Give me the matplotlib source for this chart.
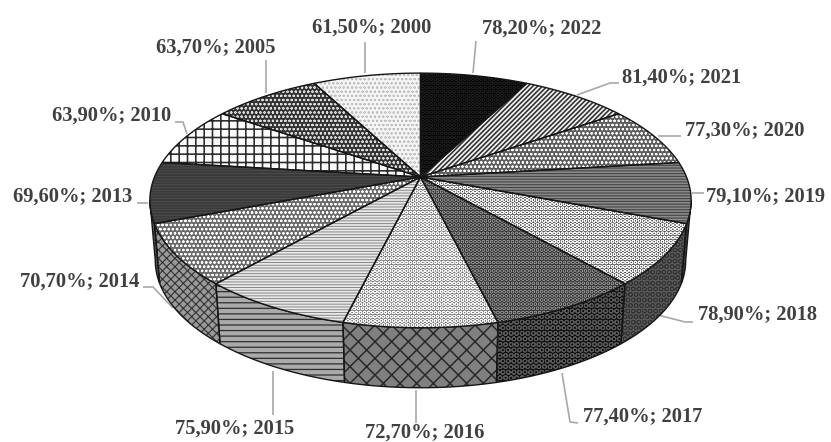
import numpy as np
import matplotlib
matplotlib.use("Agg")
import matplotlib.pyplot as plt
from matplotlib.patches import Polygon

years = [2022, 2021, 2020, 2019, 2018, 2017, 2016, 2015, 2014, 2013, 2010, 2005, 2000]
values = [78.2, 81.4, 77.3, 79.1, 78.9, 77.4, 72.7, 75.9, 70.7, 69.6, 63.9, 63.7, 61.5]
# In the picture every slice has the same size, whatever its label says.
slice_sizes = [1, 1, 1, 1, 1, 1, 1, 1, 1, 1, 1, 1, 1]

top_face = ['#050505', '#f6f6f6', '#5e5e5e', '#8a8a8a', '#555555', '#333333', '#777777',
            '#e8e8e8', '#6a6a6a', '#3a3a3a', '#fbfbfb', '#333333', '#f5f5f5']
top_edge = ['#1c1c1c', '#333333', '#ffffff', '#444444', '#ffffff', '#999999', '#ffffff',
            '#888888', '#ffffff', '#505050', '#2a2a2a', '#dddddd', '#bebebe']
top_hatch = ['OOOO', '///////', 'oooo', '------', 'OOOO', 'OOOO', 'OOOO',
             '------', 'oooo', '------', '++', 'oooo', 'oooo']
top_hlw = [0.5, 1.2, 0.5, 0.8, 0.5, 0.3, 0.5, 0.7, 0.55, 0.6, 1.15, 0.5, 0.4]

side_face = ['#333333', '#333333', '#333333', '#444444', '#5a5a5a', '#0a0a0a', '#808080',
             '#aaaaaa', '#999999', '#505050', '#333333', '#333333', '#333333']
side_edge = ['#333333', '#333333', '#333333', '#333333', '#333333', '#585858', '#2a2a2a',
             '#2e2e2e', '#333333', '#707070', '#333333', '#333333', '#333333']
side_hatch = ['', '', '', '---', 'OOO', 'OOO', 'xx', '---', 'xxxx', '---', '', '', '']
side_hlw = [0.7, 0.7, 0.7, 0.7, 0.6, 0.8, 1.1, 0.9, 0.8, 0.7, 0.7, 0.7, 0.7]

label_x = [542, 682, 745, 766, 758, 643, 425, 235, 80, 73, 112, 216, 372]
label_y = [29, 78, 131, 197, 315, 417, 433, 429, 282, 197, 116, 48, 28]
leaders = [
    [(473, 73), (476, 41)],
    [(577, 95), (610, 83), (619, 83)],
    [(658, 136), (681, 136)],
    [(692, 193), (704, 193)],
    [(658, 315), (685, 322), (693, 322)],
    [(562, 373), (570, 422), (578, 423)],
    [(416, 390), (416, 423)],
    [(273, 371), (273, 415)],
    [(173, 308), (153, 287), (143, 287)],
    [(148, 203), (137, 203)],
    [(187, 134), (183, 122), (175, 122)],
    [(266, 93), (266, 60)],
    [(365, 73), (365, 42)],
]

CX, CY = 420.5, 177.0
A, B, K = 266.0, 123.0, 0.184
DEPTH, SHRINK = 60.0, 0.98
FRONT_START = np.arccos(-K)
FRONT_END = 2 * np.pi - FRONT_START


def project(theta):
    u, v = np.sin(theta), np.cos(theta)
    w = 1 + K * v
    return CX + A * u / w, CY - B * v / w


fig = plt.figure(figsize=(8.31, 4.42), dpi=100)
ax = fig.add_axes([0, 0, 1, 1])
ax.set_xlim(0, 831)
ax.set_ylim(442, 0)
ax.axis('off')

edges = np.cumsum([0] + slice_sizes) / sum(slice_sizes) * 2 * np.pi

for i in range(len(years)):
    a = max(edges[i], FRONT_START)
    b = min(edges[i + 1], FRONT_END)
    if a >= b:
        continue
    th = np.linspace(a, b, 40)
    x, y = project(th)
    xb = CX + (x - CX) * SHRINK
    yb = y + DEPTH
    ptsw = np.column_stack([np.r_[x, xb[::-1]], np.r_[y, yb[::-1]]])
    plt.rcParams['hatch.linewidth'] = side_hlw[i]
    ax.add_patch(Polygon(ptsw, closed=True, facecolor=side_face[i], edgecolor=side_edge[i],
                         hatch=side_hatch[i], lw=0, zorder=2))
    ax.add_patch(Polygon(ptsw, closed=True, fill=False, edgecolor='#161616', lw=1.0, zorder=3))

for i in range(len(years)):
    th = np.linspace(edges[i], edges[i + 1], 40)
    x, y = project(th)
    pts = np.column_stack([np.r_[CX, x], np.r_[CY, y]])
    plt.rcParams['hatch.linewidth'] = top_hlw[i]
    ax.add_patch(Polygon(pts, closed=True, facecolor=top_face[i], edgecolor=top_edge[i],
                         hatch=top_hatch[i], lw=0, zorder=4))
    ax.add_patch(Polygon(pts, closed=True, fill=False, edgecolor='#161616', lw=1.0, zorder=5))

for line in leaders:
    lx, ly = zip(*line)
    ax.plot(lx, ly, color='#a8a8a8', lw=1.2, zorder=1, solid_capstyle='butt')

for yr, val, tx, ty in zip(years, values, label_x, label_y):
    text = f"{val:.2f}%; {yr}".replace('.', ',')
    ax.text(tx, ty, text, ha='center', va='center', family='Liberation Serif',
            fontweight='bold', fontsize=14.8, color='#404040', zorder=6)

fig.savefig('out.png', dpi=100)
